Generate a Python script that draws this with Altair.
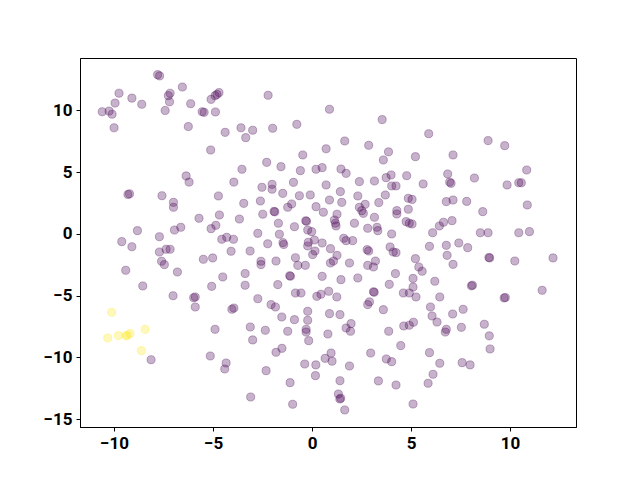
import altair as alt
import pandas as pd

# class 0 (dark purple) points
c0 = [
(-7.8,12.9),(-7.7,12.8),
(-9.75,11.4),(-9.1,11.0),(-8.6,10.5),(-9.95,10.6),(-10.6,9.9),(-10.25,9.95),(-10.1,9.7),(-10.0,8.6),
(-7.17,11.4),(-7.26,11.2),(-7.2,10.7),(-7.42,10.0),(-6.55,11.9),(-6.13,10.55),
(-5.55,9.9),(-5.45,9.85),(-4.88,9.88),(-6.25,8.7),(-5.1,10.9),(-4.9,11.2),(-4.7,11.45),(-4.8,11.3),
(-4.39,8.23),(-3.59,8.6),(-3.35,7.8),(-5.12,6.8),
(-2.22,11.23),(0.88,10.1),(3.54,9.26),(-3.0,8.4),(-1.99,8.56),(-0.77,8.88),(1.65,7.53),(2.86,7.18),(0.71,6.9),(3.86,6.65),
(5.89,8.12),(8.89,7.56),(9.73,7.15),(7.12,6.4),
(5.22,6.26),(10.84,5.18),(6.85,4.86),(6.95,4.2),(7.02,4.1),(8.2,4.53),(9.85,3.97),(10.44,4.15),(10.57,4.15),(5.61,4.05),
(5.05,2.8),(6.78,2.62),(7.12,2.75),(7.81,2.64),(8.62,1.81),(10.87,2.35),(6.43,0.65),(6.64,0.95),(7.07,1.08),(5.05,0.81),
(6.09,0.1),(8.5,0.1),(8.89,0.1),(10.44,0.1),(10.98,0.19),
(-9.3,3.2),(-9.22,3.25),(-7.58,3.1),(-6.36,4.7),(-6.21,4.2),(-3.54,5.24),(-3.95,4.2),(-4.73,3.08),(-3.45,2.48),(-7.0,2.56),
(-7.0,2.16),(-5.71,1.27),(-4.68,1.54),(-3.67,1.21),(-5.1,0.43),(-4.86,0.7),(-6.63,0.54),(-6.95,0.32),(-8.82,0.27),(-7.71,-0.22),
(-9.61,-0.62),(-4.56,-0.43),(-4.31,-0.27),(-3.97,-0.43),
(-9.1,-1.03),(-7.71,-1.46),(-7.37,-1.24),(-7.17,-1.24),(-7.6,-2.21),(-7.46,-2.48),(-9.41,-2.94),(-6.8,-3.08),(-8.55,-4.21),
(-7.02,-5.0),(-5.98,-5.16),(-5.9,-5.1),(-5.9,-5.91),(-5.49,-2.05),(-5.02,-1.94),(-4.51,-3.48),(-5.07,-4.24),(-4.09,-1.4),
(-4.05,-6.1),(-3.95,-6.0),(-3.38,-4.15),(-4.9,-7.72),(-3.38,-3.2),
(-8.13,-10.18),(-5.14,-9.88),(-4.34,-10.45),(-4.41,-10.93),
(-3.0,-8.58),(-1.82,-9.58),(-1.52,-9.26),(-0.17,-8.64),(0.96,-9.64),(0.66,-10.07),(1.01,-10.3),(-0.37,-10.53),
(0.19,-10.6),(0.17,-11.47),(1.89,-10.69),(2.96,-9.64),(3.75,-10.12),(4.02,-10.34),(4.48,-9.04),(-2.32,-11.07),(-1.11,-12.04),
(1.41,-11.88),(3.35,-11.9),(4.24,-12.23),(-3.1,-13.2),(-0.98,-13.79),(1.33,-12.96),(1.4,-13.36),(1.45,-13.3),(1.65,-14.25),(5.1,-13.77),
(8.95,-8.25),(8.99,-9.31),(5.93,-9.61),(6.45,-10.47),(7.58,-10.42),(7.98,-10.6),(6.11,-11.36),(5.86,-12.09),
(5.93,-1.0),(6.78,-0.92),(7.41,-0.73),(7.86,-1.11),(8.93,-1.9),(8.97,-1.94),(10.24,-2.19),(12.17,-1.94),(5.22,-2.0),(6.82,-1.73),
(7.12,-2.46),(5.39,-2.67),(5.56,-3.02),(6.2,-3.83),(8.05,-4.2),(8.1,-4.15),(9.7,-5.18),(9.76,-5.14),(11.62,-4.56),(5.1,-3.6),
(5.1,-4.3),(6.45,-5.1),(5.25,-5.1),(5.98,-5.91),(6.06,-6.64),(6.31,-7.13),(7.1,-6.48),(7.63,-6.1),(5.12,-7.15),(6.78,-7.72),
(6.73,-7.94),(7.54,-7.56),(8.7,-7.31),
(-0.47,6.4),(3.6,5.99),(-2.29,5.8),(-1.57,5.45),(-0.59,5.13),(0.2,5.24),(0.51,5.37),(1.46,5.26),(1.72,4.91),(2.39,4.24),
(3.15,4.29),(3.74,4.56),(3.99,4.78),(4.78,4.72),(4.02,3.89),(4.24,3.89),(-0.94,4.18),(0.71,3.97),(-2.53,3.78),(-2.02,4.02),
(-2.02,3.62),(-1.48,3.29),(-0.64,3.1),(-0.09,3.16),(1.43,3.43),(2.31,3.08),(3.7,3.16),(4.86,2.89),(-2.61,2.67),(-1.03,2.43),
(-1.23,2.16),(0.88,2.75),(1.5,2.56),(3.37,2.54),(0.2,2.21),(0.57,1.76),(2.39,2.16),(2.51,1.89),(2.59,1.67),(2.68,2.4),
(-2.49,1.6),(-1.92,1.83),(-1.88,1.79),(1.26,1.6),(3.15,1.35),(4.28,1.89),(4.28,1.62),(4.86,2.0),(4.75,1.0),(4.91,0.87),
(-1.7,0.87),(-0.89,0.59),(-0.32,1.07),(-0.28,1.03),(-0.22,0.32),(-0.02,0.19),(1.13,1.13),(1.18,0.87),(1.21,0.65),(2.14,0.87),
(2.81,0.46),(3.28,0.54),(3.32,0.27),(4.02,0.0),(-2.74,0.05),(-1.65,-0.02),(-0.19,-0.67),(0.12,-0.49),(1.6,-0.35),(1.72,-0.54),
(2.05,-0.54),
(-3.13,-1.38),(-2.24,-0.79),(-1.47,-0.7),(-1.43,-0.85),(-0.22,-0.97),(0.15,-1.38),(0.03,-1.67),(0.51,-0.73),(0.93,-1.19),
(2.78,-1.27),(2.86,-1.38),(3.94,-1.05),(4.1,-1.46),(4.24,-1.51),(-2.58,-2.21),(-2.58,-2.48),(-1.82,-2.19),(-0.84,-1.92),
(-0.72,-2.54),(-0.34,-2.54),(1.26,-1.73),(1.08,-2.19),(0.93,-2.35),(1.89,-2.35),(2.81,-2.54),(3.1,-2.67),(3.2,-2.19),
(-1.13,-3.38),(-1.09,-3.42),(0.51,-3.43),(1.46,-3.7),(2.31,-3.56),(4.21,-3.21),(3.9,-4.08),(-1.73,-4.1),(-0.84,-4.78),
(-0.56,-4.78),(0.24,-5.05),(0.45,-4.88),(0.84,-4.64),(1.25,-5.1),(3.1,-4.68),(3.14,-4.72),(2.9,-5.5),(2.81,-5.72),
(4.61,-4.78),(4.91,-4.78),(-2.74,-5.24),(-2.07,-5.72),(-1.85,-5.91),(-0.22,-6.26),(-0.22,-6.99),(-1.53,-6.72),(-0.89,-6.94),
(0.88,-6.45),(1.41,-6.53),(3.6,-6.13),(-3.12,-7.53),(-2.36,-7.8),(-1.23,-7.88),(-0.3,-7.72),(-0.3,-7.94),(0.8,-8.1),
(1.72,-7.61),(1.97,-7.26),(1.94,-7.88),(3.87,-7.88),(4.63,-7.45),(4.91,-7.39),
]

# class 1 (yellow) points
c1 = [(-10.12,-6.34),(-8.43,-7.72),(-10.32,-8.42),(-9.78,-8.23),(-9.4,-8.25),(-9.32,-8.2),(-9.19,-8.05),(-8.62,-9.45)]

class0_x = [p[0] for p in c0]
class0_y = [p[1] for p in c0]
class1_x = [p[0] for p in c1]
class1_y = [p[1] for p in c1]

x_ticks = [-10, -5, 0, 5, 10]
y_ticks = [-15, -10, -5, 0, 5, 10]

df = pd.DataFrame({
    "x": class0_x + class1_x,
    "y": class0_y + class1_y,
    "label": [0] * len(class0_x) + [1] * len(class1_x),
})

cscale = alt.Scale(domain=[0, 1], range=["#440154", "#fde725"])

chart = alt.Chart(df).mark_circle(
    size=66, fillOpacity=0.3, strokeOpacity=0.3, strokeWidth=1
).encode(
    x=alt.X("x:Q", scale=alt.Scale(domain=[-11.72, 13.33], nice=False, zero=False),
            axis=alt.Axis(values=x_ticks, title=None, grid=False)),
    y=alt.Y("y:Q", scale=alt.Scale(domain=[-15.63, 14.25], nice=False, zero=False),
            axis=alt.Axis(values=y_ticks, title=None, grid=False)),
    color=alt.Color("label:N", scale=cscale, legend=None),
    stroke=alt.Stroke("label:N", scale=cscale, legend=None),
).properties(
    width=496, height=369,
    autosize=alt.AutoSizeParams(type="none"),
    padding={"left": 72, "top": 50, "right": 56, "bottom": 45},
).configure_view(
    stroke="black", strokeWidth=1
).configure_axis(
    domainColor="black", tickColor="black", tickSize=4, labelColor="black",
    labelFontSize=17, labelFontWeight="bold", labelFont="Roboto", labelPadding=4
)

chart.save("out.html", embed_options={"renderer": "svg", "actions": False})
